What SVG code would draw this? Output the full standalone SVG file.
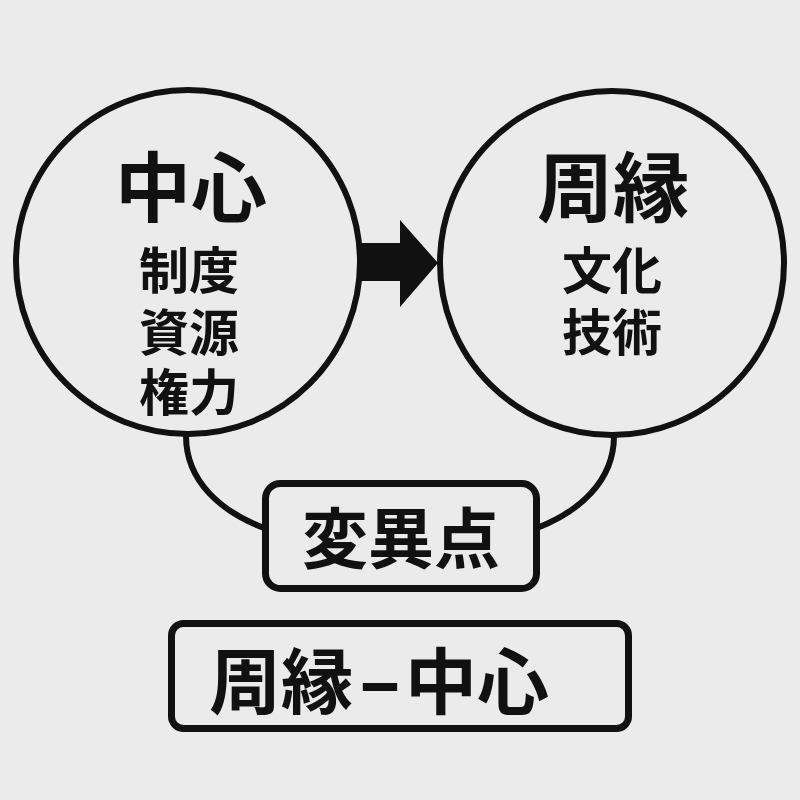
<svg xmlns="http://www.w3.org/2000/svg" width="800" height="800" viewBox="0 0 800 800">
<style>
.ln{fill:none;stroke:#111;stroke-width:6}
.t{font-family:"Noto Sans CJK JP","Noto Sans CJK SC",sans-serif;fill:#111;text-anchor:middle}
.big{font-size:76px;font-weight:700}
.mid{font-size:50px;font-weight:700}
.box{font-size:66px;font-weight:700}
</style>
<rect width="800" height="800" fill="#ebebeb"/>
<g id="connectors">
<path class="ln" d="M186,436 C186,482 222,512 264,528"/>
<path class="ln" d="M614,436 C614,482 578,512 537,528"/>
<polygon fill="#111" points="360,243 400,243 400,220 438,263 400,307 400,281 360,281"/>
</g>
<g id="center">
<circle class="ln" cx="188" cy="262" r="172" fill="#ebebeb"/>
<text class="t big" x="191" y="216">中心</text>
<text class="t mid" x="189" y="289">制度</text>
<text class="t mid" x="189" y="351">資源</text>
<text class="t mid" x="189" y="411">権力</text>
</g>
<g id="periphery">
<circle class="ln" cx="612" cy="263" r="172" fill="#ebebeb"/>
<text class="t big" x="613" y="216">周縁</text>
<text class="t mid" x="612" y="289">文化</text>
<text class="t mid" x="612" y="351">技術</text>
</g>
<g id="mutation">
<rect x="265.5" y="483.5" width="271" height="105" rx="15" fill="#ebebeb" stroke="#111" stroke-width="7"/>
<text class="t box" x="401" y="563">変異点</text>
</g>
<g id="label">
<rect x="171.5" y="623.5" width="457" height="105" rx="12" fill="#ebebeb" stroke="#111" stroke-width="7"/>
<text class="t box" y="708" style="text-anchor:start;font-size:72px"><tspan x="209">周縁</tspan><tspan x="359" textLength="42" lengthAdjust="spacingAndGlyphs" style="font-weight:900">–</tspan><tspan x="405">中心</tspan></text>
</g>
</svg>
